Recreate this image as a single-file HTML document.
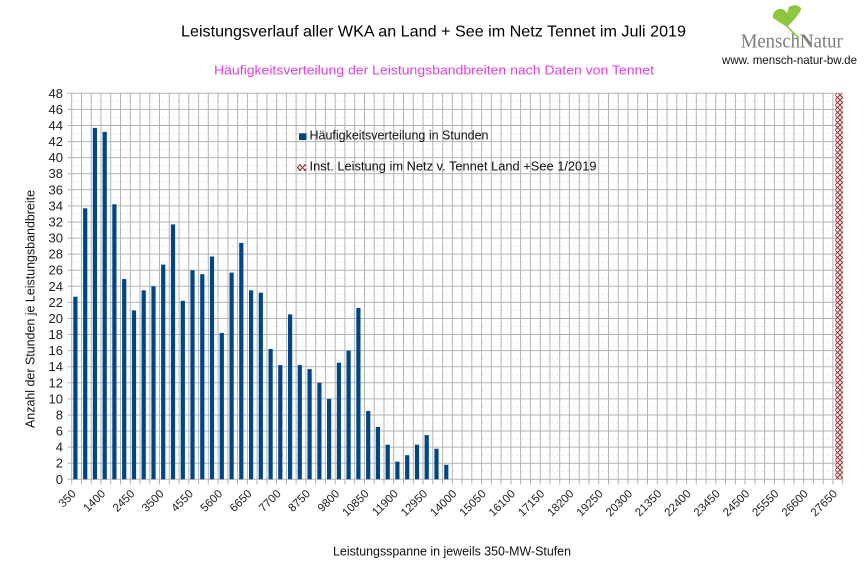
<!DOCTYPE html>
<html>
<head>
<meta charset="utf-8">
<style>
  html, body { margin: 0; padding: 0; background: #ffffff; }
  svg { display: block; }
  text { font-family: "Liberation Sans", "DejaVu Sans", sans-serif; }
</style>
</head>
<body>
<svg width="866" height="578" viewBox="0 0 866 578" xmlns="http://www.w3.org/2000/svg">
  <defs>
    <pattern id="hatch" x="0" y="0" width="5" height="5" patternUnits="userSpaceOnUse">
      <rect width="5" height="5" fill="#ffffff"/>
      <path d="M0,0 L5,5 M5,0 L0,5" stroke="#9b2d30" stroke-width="1"/>
    </pattern>
  </defs>
  <rect width="866" height="578" fill="#ffffff"/>

  <!-- Titles -->
  <text x="181" y="36.5" font-size="16" fill="#000" textLength="505" lengthAdjust="spacingAndGlyphs">Leistungsverlauf aller WKA an Land + See im Netz Tennet im Juli 2019</text>
  <text x="214" y="74.3" font-size="13" fill="#e03ee0" textLength="440" lengthAdjust="spacingAndGlyphs">Häufigkeitsverteilung der Leistungsbandbreiten nach Daten von Tennet</text>

  <!-- Logo -->
  <path d="M787,27 L773,18 Q772,11 779,9 Q784,8 787,13 L789,7 Q796,3 801,8 Q802,12 787,27 Z" fill="#8dc63f"/>
  <path d="M787,26 Q792,32 799,38" stroke="#8dc63f" stroke-width="1.6" fill="none"/>
  <text x="740.7" y="47.3" style="font-family:'Liberation Serif', serif;" font-size="20" fill="#7d7d7d" textLength="102" lengthAdjust="spacingAndGlyphs">Mensch<tspan font-weight="bold">N</tspan>atur</text>
  <text x="722" y="64" font-size="12" fill="#111" textLength="135" lengthAdjust="spacingAndGlyphs">www. mensch-natur-bw.de</text>

  <!-- Minor gridlines (faint) -->
  <g stroke="#e6e6e6" stroke-width="1" stroke-dasharray="2,3">
    <path d="M71.7,471.3H842.7 M71.7,455.2H842.7 M71.7,439.1H842.7 M71.7,423.0H842.7 M71.7,406.9H842.7 M71.7,390.8H842.7 M71.7,374.7H842.7 M71.7,358.7H842.7 M71.7,342.6H842.7 M71.7,326.5H842.7 M71.7,310.4H842.7 M71.7,294.3H842.7 M71.7,278.2H842.7 M71.7,262.2H842.7 M71.7,246.1H842.7 M71.7,230.0H842.7 M71.7,213.9H842.7 M71.7,197.8H842.7 M71.7,181.7H842.7 M71.7,165.7H842.7 M71.7,149.6H842.7 M71.7,133.5H842.7 M71.7,117.4H842.7 M71.7,101.3H842.7"/>
  </g>

  <!-- Major gridlines -->
  <g stroke="#b3b3b3" stroke-width="1" fill="none">
    <path d="M71.7,463.2H842.7 M71.7,447.1H842.7 M71.7,431.0H842.7 M71.7,415.0H842.7 M71.7,398.9H842.7 M71.7,382.8H842.7 M71.7,366.7H842.7 M71.7,350.6H842.7 M71.7,334.5H842.7 M71.7,318.5H842.7 M71.7,302.4H842.7 M71.7,286.3H842.7 M71.7,270.2H842.7 M71.7,254.1H842.7 M71.7,238.1H842.7 M71.7,222.0H842.7 M71.7,205.9H842.7 M71.7,189.8H842.7 M71.7,173.7H842.7 M71.7,157.6H842.7 M71.7,141.6H842.7 M71.7,125.5H842.7 M71.7,109.4H842.7 M71.7,93.3H842.7"/>
    <path d="M81.5,93.3V479.3 M91.2,93.3V479.3 M101.0,93.3V479.3 M110.7,93.3V479.3 M120.5,93.3V479.3 M130.3,93.3V479.3 M140.0,93.3V479.3 M149.8,93.3V479.3 M159.5,93.3V479.3 M169.3,93.3V479.3 M179.1,93.3V479.3 M188.8,93.3V479.3 M198.6,93.3V479.3 M208.3,93.3V479.3 M218.1,93.3V479.3 M227.9,93.3V479.3 M237.6,93.3V479.3 M247.4,93.3V479.3 M257.1,93.3V479.3 M266.9,93.3V479.3 M276.6,93.3V479.3 M286.4,93.3V479.3 M296.1,93.3V479.3 M305.9,93.3V479.3 M315.7,93.3V479.3 M325.4,93.3V479.3 M335.2,93.3V479.3 M344.9,93.3V479.3 M354.7,93.3V479.3 M364.5,93.3V479.3 M374.2,93.3V479.3 M384.0,93.3V479.3 M393.7,93.3V479.3 M403.5,93.3V479.3 M413.3,93.3V479.3 M423.0,93.3V479.3 M432.8,93.3V479.3 M442.6,93.3V479.3 M452.3,93.3V479.3 M462.1,93.3V479.3 M471.8,93.3V479.3 M481.6,93.3V479.3 M491.3,93.3V479.3 M501.1,93.3V479.3 M510.9,93.3V479.3 M520.6,93.3V479.3 M530.4,93.3V479.3 M540.2,93.3V479.3 M549.9,93.3V479.3 M559.7,93.3V479.3 M569.4,93.3V479.3 M579.2,93.3V479.3 M589.0,93.3V479.3 M598.7,93.3V479.3 M608.5,93.3V479.3 M618.2,93.3V479.3 M628.0,93.3V479.3 M637.8,93.3V479.3 M647.5,93.3V479.3 M657.3,93.3V479.3 M667.0,93.3V479.3 M676.8,93.3V479.3 M686.6,93.3V479.3 M696.3,93.3V479.3 M706.1,93.3V479.3 M715.8,93.3V479.3 M725.6,93.3V479.3 M735.4,93.3V479.3 M745.1,93.3V479.3 M754.9,93.3V479.3 M764.6,93.3V479.3 M774.4,93.3V479.3 M784.2,93.3V479.3 M793.9,93.3V479.3 M803.7,93.3V479.3 M813.4,93.3V479.3 M823.2,93.3V479.3 M832.9,93.3V479.3 M842.7,93.3V479.3"/>
  </g>

  <!-- Axes -->
  <g stroke="#b3b3b3" stroke-width="1" fill="none">
    <path d="M71.7,93.3V479.3 H842.7"/>
    <path d="M67.5,479.3H71.7 M67.5,463.2H71.7 M67.5,447.1H71.7 M67.5,431.0H71.7 M67.5,415.0H71.7 M67.5,398.9H71.7 M67.5,382.8H71.7 M67.5,366.7H71.7 M67.5,350.6H71.7 M67.5,334.5H71.7 M67.5,318.5H71.7 M67.5,302.4H71.7 M67.5,286.3H71.7 M67.5,270.2H71.7 M67.5,254.1H71.7 M67.5,238.1H71.7 M67.5,222.0H71.7 M67.5,205.9H71.7 M67.5,189.8H71.7 M67.5,173.7H71.7 M67.5,157.6H71.7 M67.5,141.6H71.7 M67.5,125.5H71.7 M67.5,109.4H71.7 M67.5,93.3H71.7"/>
    <path d="M71.7,479.3V484.5 M81.5,479.3V484.5 M91.2,479.3V484.5 M101.0,479.3V484.5 M110.7,479.3V484.5 M120.5,479.3V484.5 M130.3,479.3V484.5 M140.0,479.3V484.5 M149.8,479.3V484.5 M159.5,479.3V484.5 M169.3,479.3V484.5 M179.1,479.3V484.5 M188.8,479.3V484.5 M198.6,479.3V484.5 M208.3,479.3V484.5 M218.1,479.3V484.5 M227.9,479.3V484.5 M237.6,479.3V484.5 M247.4,479.3V484.5 M257.1,479.3V484.5 M266.9,479.3V484.5 M276.6,479.3V484.5 M286.4,479.3V484.5 M296.1,479.3V484.5 M305.9,479.3V484.5 M315.7,479.3V484.5 M325.4,479.3V484.5 M335.2,479.3V484.5 M344.9,479.3V484.5 M354.7,479.3V484.5 M364.5,479.3V484.5 M374.2,479.3V484.5 M384.0,479.3V484.5 M393.7,479.3V484.5 M403.5,479.3V484.5 M413.3,479.3V484.5 M423.0,479.3V484.5 M432.8,479.3V484.5 M442.6,479.3V484.5 M452.3,479.3V484.5 M462.1,479.3V484.5 M471.8,479.3V484.5 M481.6,479.3V484.5 M491.3,479.3V484.5 M501.1,479.3V484.5 M510.9,479.3V484.5 M520.6,479.3V484.5 M530.4,479.3V484.5 M540.2,479.3V484.5 M549.9,479.3V484.5 M559.7,479.3V484.5 M569.4,479.3V484.5 M579.2,479.3V484.5 M589.0,479.3V484.5 M598.7,479.3V484.5 M608.5,479.3V484.5 M618.2,479.3V484.5 M628.0,479.3V484.5 M637.8,479.3V484.5 M647.5,479.3V484.5 M657.3,479.3V484.5 M667.0,479.3V484.5 M676.8,479.3V484.5 M686.6,479.3V484.5 M696.3,479.3V484.5 M706.1,479.3V484.5 M715.8,479.3V484.5 M725.6,479.3V484.5 M735.4,479.3V484.5 M745.1,479.3V484.5 M754.9,479.3V484.5 M764.6,479.3V484.5 M774.4,479.3V484.5 M784.2,479.3V484.5 M793.9,479.3V484.5 M803.7,479.3V484.5 M813.4,479.3V484.5 M823.2,479.3V484.5 M832.9,479.3V484.5 M842.7,479.3V484.5"/>
  </g>

  <!-- Blue bars -->
  <g fill="#004586">
    <rect x="73.3" y="296.7" width="4.2" height="182.6"/>
    <rect x="83.1" y="208.3" width="4.2" height="271.0"/>
    <rect x="92.8" y="127.9" width="4.2" height="351.4"/>
    <rect x="102.6" y="131.9" width="4.2" height="347.4"/>
    <rect x="112.3" y="204.3" width="4.2" height="275.0"/>
    <rect x="122.1" y="279.1" width="4.2" height="200.2"/>
    <rect x="131.9" y="310.4" width="4.2" height="168.9"/>
    <rect x="141.6" y="290.3" width="4.2" height="189.0"/>
    <rect x="151.4" y="286.3" width="4.2" height="193.0"/>
    <rect x="161.1" y="264.6" width="4.2" height="214.7"/>
    <rect x="170.9" y="224.4" width="4.2" height="254.9"/>
    <rect x="180.7" y="300.8" width="4.2" height="178.5"/>
    <rect x="190.4" y="270.2" width="4.2" height="209.1"/>
    <rect x="200.2" y="274.2" width="4.2" height="205.1"/>
    <rect x="209.9" y="256.5" width="4.2" height="222.8"/>
    <rect x="219.7" y="332.9" width="4.2" height="146.4"/>
    <rect x="229.5" y="272.6" width="4.2" height="206.7"/>
    <rect x="239.2" y="242.9" width="4.2" height="236.4"/>
    <rect x="249.0" y="290.3" width="4.2" height="189.0"/>
    <rect x="258.7" y="292.7" width="4.2" height="186.6"/>
    <rect x="268.5" y="349.0" width="4.2" height="130.3"/>
    <rect x="278.2" y="365.1" width="4.2" height="114.2"/>
    <rect x="288.0" y="314.4" width="4.2" height="164.9"/>
    <rect x="297.7" y="365.1" width="4.2" height="114.2"/>
    <rect x="307.5" y="369.1" width="4.2" height="110.2"/>
    <rect x="317.3" y="382.8" width="4.2" height="96.5"/>
    <rect x="327.0" y="398.9" width="4.2" height="80.4"/>
    <rect x="336.8" y="362.7" width="4.2" height="116.6"/>
    <rect x="346.5" y="350.6" width="4.2" height="128.7"/>
    <rect x="356.3" y="308.0" width="4.2" height="171.3"/>
    <rect x="366.1" y="410.9" width="4.2" height="68.4"/>
    <rect x="375.8" y="427.0" width="4.2" height="52.3"/>
    <rect x="385.6" y="444.7" width="4.2" height="34.6"/>
    <rect x="395.3" y="461.6" width="4.2" height="17.7"/>
    <rect x="405.1" y="455.2" width="4.2" height="24.1"/>
    <rect x="414.9" y="444.7" width="4.2" height="34.6"/>
    <rect x="424.6" y="435.1" width="4.2" height="44.2"/>
    <rect x="434.4" y="448.7" width="4.2" height="30.6"/>
    <rect x="444.2" y="464.8" width="4.2" height="14.5"/>
  </g>

  <!-- Red hatched bar -->
  <rect x="835.3" y="93.3" width="7.4" height="386" fill="url(#hatch)"/>

  <!-- Y tick labels -->
  <g font-size="13" fill="#222" text-anchor="end">
    <text x="63" y="483.8">0</text>
    <text x="63" y="467.7">2</text>
    <text x="63" y="451.6">4</text>
    <text x="63" y="435.5">6</text>
    <text x="63" y="419.5">8</text>
    <text x="63" y="403.4">10</text>
    <text x="63" y="387.3">12</text>
    <text x="63" y="371.2">14</text>
    <text x="63" y="355.1">16</text>
    <text x="63" y="339.0">18</text>
    <text x="63" y="323.0">20</text>
    <text x="63" y="306.9">22</text>
    <text x="63" y="290.8">24</text>
    <text x="63" y="274.7">26</text>
    <text x="63" y="258.6">28</text>
    <text x="63" y="242.6">30</text>
    <text x="63" y="226.5">32</text>
    <text x="63" y="210.4">34</text>
    <text x="63" y="194.3">36</text>
    <text x="63" y="178.2">38</text>
    <text x="63" y="162.1">40</text>
    <text x="63" y="146.1">42</text>
    <text x="63" y="130.0">44</text>
    <text x="63" y="113.9">46</text>
    <text x="63" y="97.8">48</text>
  </g>

  <!-- X tick labels -->
  <g font-size="11.5" fill="#222" text-anchor="end">
    <text transform="translate(76.7,494.4) rotate(-45)">350</text>
    <text transform="translate(106.0,494.4) rotate(-45)">1400</text>
    <text transform="translate(135.3,494.4) rotate(-45)">2450</text>
    <text transform="translate(164.5,494.4) rotate(-45)">3500</text>
    <text transform="translate(193.8,494.4) rotate(-45)">4550</text>
    <text transform="translate(223.1,494.4) rotate(-45)">5600</text>
    <text transform="translate(252.4,494.4) rotate(-45)">6650</text>
    <text transform="translate(281.6,494.4) rotate(-45)">7700</text>
    <text transform="translate(310.9,494.4) rotate(-45)">8750</text>
    <text transform="translate(340.2,494.4) rotate(-45)">9800</text>
    <text transform="translate(369.5,494.4) rotate(-45)">10850</text>
    <text transform="translate(398.7,494.4) rotate(-45)">11900</text>
    <text transform="translate(428.0,494.4) rotate(-45)">12950</text>
    <text transform="translate(457.3,494.4) rotate(-45)">14000</text>
    <text transform="translate(486.6,494.4) rotate(-45)">15050</text>
    <text transform="translate(515.9,494.4) rotate(-45)">16100</text>
    <text transform="translate(545.2,494.4) rotate(-45)">17150</text>
    <text transform="translate(574.4,494.4) rotate(-45)">18200</text>
    <text transform="translate(603.7,494.4) rotate(-45)">19250</text>
    <text transform="translate(633.0,494.4) rotate(-45)">20300</text>
    <text transform="translate(662.3,494.4) rotate(-45)">21350</text>
    <text transform="translate(691.6,494.4) rotate(-45)">22400</text>
    <text transform="translate(720.8,494.4) rotate(-45)">23450</text>
    <text transform="translate(750.1,494.4) rotate(-45)">24500</text>
    <text transform="translate(779.4,494.4) rotate(-45)">25550</text>
    <text transform="translate(808.7,494.4) rotate(-45)">26600</text>
    <text transform="translate(837.9,494.4) rotate(-45)">27650</text>
  </g>

  <!-- Axis titles -->
  <text transform="translate(34.5,309) rotate(-90)" font-size="12.5" fill="#111" text-anchor="middle" textLength="238" lengthAdjust="spacingAndGlyphs">Anzahl der Stunden je Leistungsbandbreite</text>
  <text x="333" y="555.5" font-size="12.5" fill="#111" textLength="238" lengthAdjust="spacingAndGlyphs">Leistungsspanne in jeweils 350-MW-Stufen</text>

  <!-- Legend -->
  <rect x="299" y="133.3" width="7.5" height="6.7" fill="#004586"/>
  <text x="309.5" y="139.3" font-size="12.5" fill="#111" textLength="179" lengthAdjust="spacingAndGlyphs">Häufigkeitsverteilung in Stunden</text>
  <rect x="297" y="164.3" width="9.5" height="6.7" fill="url(#hatch)"/>
  <text x="309.5" y="170.3" font-size="12.5" fill="#111" textLength="287" lengthAdjust="spacingAndGlyphs">Inst. Leistung im Netz v. Tennet  Land +See 1/2019</text>
</svg>
</body>
</html>
